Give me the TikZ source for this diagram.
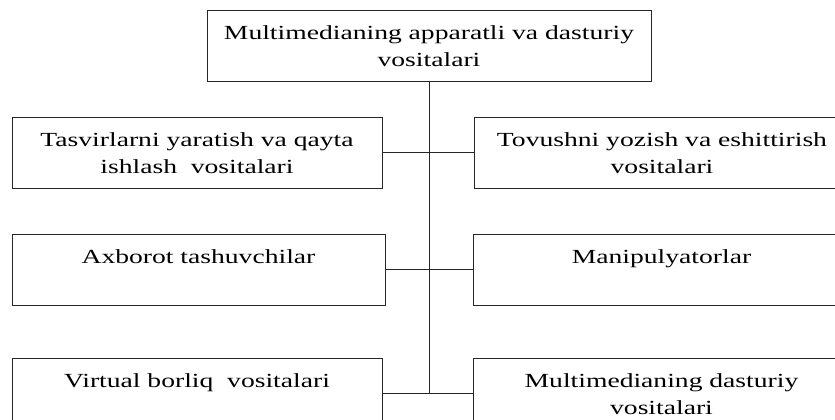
\documentclass[tikz,border=0pt]{standalone}
\usepackage{fontspec}
\setmainfont{Liberation Serif}[FakeStretch=1.38]
\newcommand{\boxtext}[3]{\begin{minipage}[c][#2][t]{#1}\centering\fontsize{20}{27}\selectfont\rule{0pt}{29pt}#3\end{minipage}}
\begin{document}
\begin{tikzpicture}[x=1pt,y=-1pt,
  box/.style={draw=black!85,line width=1pt,inner sep=0pt,outer sep=0pt,fill=white},
  conn/.style={draw=black!85,line width=1pt}]
\useasboundingbox (0,0) rectangle (835,420);
\clip (0,0) rectangle (835,420);
\node[box] (top) at (429,46) {\boxtext{444pt}{70pt}{Multimedianing apparatli va dasturiy\\vositalari}};
\node[box] (L1) at (197,152.5) {\boxtext{370pt}{71pt}{Tasvirlarni yaratish va qayta\\ishlash~ vositalari}};
\node[box] (R1) at (662,152.5) {\boxtext{376pt}{71pt}{Tovushni yozish va eshittirish\\vositalari}};
\node[box] (L2) at (198.5,269.5) {\boxtext{373pt}{71pt}{Axborot tashuvchilar}};
\node[box] (R2) at (661.5,269.5) {\boxtext{376pt}{71pt}{Manipulyatorlar}};
\node[box] (L3) at (197,393.5) {\boxtext{370pt}{71pt}{Virtual borliq~ vositalari}};
\node[box] (R3) at (661.5,393.5) {\boxtext{376pt}{71pt}{Multimedianing dasturiy\\vositalari}};
\coordinate (bot) at (top.south |- L3.east);
\draw[conn] (top.south) -- (bot);
\draw[conn] (L1.east) -- (R1.west);
\draw[conn] (L2.east) -- (R2.west);
\draw[conn] (L3.east) -- (R3.west);
\end{tikzpicture}
\end{document}
